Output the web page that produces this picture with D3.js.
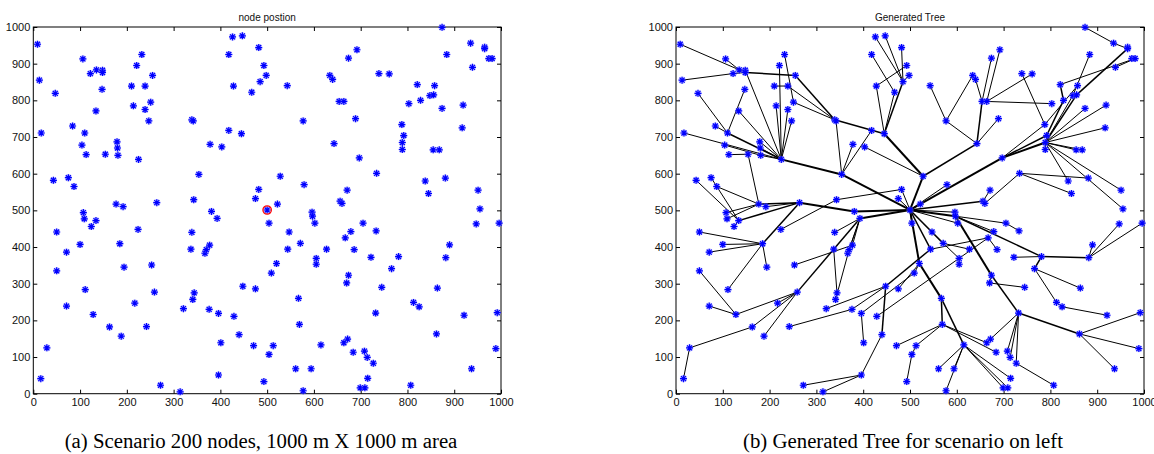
<!DOCTYPE html>
<html><head><meta charset="utf-8">
<script src="https://cdn.jsdelivr.net/npm/d3@7"></script>
<style>body{margin:0;background:#fff}</style>
</head><body>
<svg id="c" width="1154" height="454"></svg>
<script>
// ---- data (metres) ----
const nodeX = [500,9,13,47,17,106,122,135,148,148,147,134,84,110,104,113,154,179,180,181,43,75,87,107,177,192,264,210,214,221,232,239,255,239,251,247,225,339,342,354,343,381,378,403,418,445,418,426,447,428,467,482,485,493,498,475,482,
543,692,674,634,640,739,761,654,664,577,689,643,697,734,528,579,522,596,671,656,660,874,935,965,965,974,981,884,939,821,858,828,848,856,803,874,919,788,792,789,789,855,868,917,838,881,845,951,955,
109,124,134,50,100,71,50,111,71,128,29,16,224,185,194,163,188,217,253,259,242,272,314,321,339,337,367,370,377,393,344,341,376,396,429,448,475,440,401,471,396,493,
504,547,571,544,520,509,597,602,627,605,605,567,569,561,513,504,577,594,615,705,733,679,667,686,722,781,766,674,670,745,813,825,732,864,882,890,947,996,921,992,862,989,937,672,664,684,708,714,727,715,699,709,807];
const nodeY = [501,953,855,819,711,913,873,883,882,876,830,771,730,711,678,652,653,687,670,650,582,589,565,494,517,510,521,839,785,895,925,839,868,775,795,744,639,747,744,598,529,497,680,673,718,709,925,973,976,839,822,944,851,895,868,532,557,
840,938,915,868,857,873,872,797,797,744,750,682,643,601,593,570,517,495,555,525,519,999,956,945,941,914,914,925,890,843,840,800,813,815,791,778,787,734,704,685,666,665,665,725,580,588,546,555,504,
477,456,472,441,407,386,335,284,239,216,125,41,448,409,345,182,157,247,351,277,183,23,5,232,440,394,383,393,405,478,275,257,230,219,211,293,286,161,139,131,51,33,
465,441,410,394,355,329,484,465,394,369,353,260,189,68,131,107,8,68,133,465,444,442,425,393,372,374,341,323,302,290,249,237,220,288,371,406,463,465,214,221,163,123,68,149,139,113,116,99,83,42,16,16,23];
// parent of each node in the generated tree (-1 = sink)
const parentOf = [-1,9,6,13,36,7,9,8,36,32,13,36,13,36,19,16,24,36,36,36,108,108,24,24,26,26,41,31,36,36,34,37,37,36,37,36,39,45,39,0,56,0,39,71,39,71,50,52,52,45,45,52,45,49,52,0,0,
66,65,64,66,64,94,65,68,64,68,68,71,0,77,0,0,0,0,76,0,76,79,81,81,90,83,86,89,83,88,94,95,96,96,65,96,96,69,69,69,96,96,96,96,96,70,70,96,96,
24,108,26,119,119,119,115,119,115,125,121,116,40,26,119,125,125,125,134,131,138,146,146,141,135,135,135,135,135,0,131,133,141,153,170,151,152,141,139,160,143,163,
0,0,0,0,0,152,0,0,150,150,157,152,159,166,160,162,166,166,159,154,167,154,151,170,173,154,173,154,175,176,174,178,175,174,173,182,182,182,179,188,180,188,188,180,160,160,180,180,180,166,166,166,196];
const sinkIndex = 0;
const tickValues = [0,100,200,300,400,500,600,700,800,900,1000];
const titles = ["node postion", "Generated Tree"];
const captions = ["(a) Scenario 200 nodes, 1000 m X 1000 m area", "(b) Generated Tree for scenario on left"];

// ---- drawing ----
const svg = d3.select("#c");
const nodes = nodeX.map((v,i)=>({i, x:v, y:nodeY[i], p:parentOf[i]}));
const size = nodes.map(()=>1);
function depth(i){let d=0;while(parentOf[i]>=0){i=parentOf[i];d++;if(d>500)break;}return d;}
const order = nodes.map(n=>n.i).sort((a,b)=>depth(b)-depth(a));
order.forEach(i=>{ if(parentOf[i]>=0) size[parentOf[i]]+=size[i]; });

const panels = [
  {r0:33.3, r1:501, cx:261, title:titles[0], caption:captions[0], tree:false},
  {r0:676, r1:1144, cx:903, title:titles[1], caption:captions[1], tree:true}
];
const yTop = 27, yBot = 393.7;
const star = "M-3.5,0H3.5M0,-3.5V3.5M-2.5,-2.5L2.5,2.5M-2.5,2.5L2.5,-2.5";
const fmt = d3.format("d");

panels.forEach(p=>{
  const x = d3.scaleLinear().domain([0,1000]).range([p.r0,p.r1]);
  const y = d3.scaleLinear().domain([0,1000]).range([yBot,yTop]);
  const g = svg.append("g");

  const styleAxis = sel => {
    sel.attr("font-family","'Liberation Sans', Arial, sans-serif").attr("font-size",11);
    sel.select(".domain").remove();
    sel.selectAll("line").attr("stroke","#000");
    sel.selectAll("text").attr("fill","#111");
  };
  g.append("g").attr("transform",`translate(0,${yBot})`)
    .call(d3.axisBottom(x).tickValues(tickValues).tickFormat(fmt).tickSizeInner(-4).tickSizeOuter(0).tickPadding(5)).call(styleAxis);
  g.append("g").attr("transform",`translate(${p.r0},0)`)
    .call(d3.axisLeft(y).tickValues(tickValues).tickFormat(fmt).tickSizeInner(-4).tickSizeOuter(0).tickPadding(3)).call(styleAxis);
  g.append("g").attr("transform",`translate(0,${yTop})`)
    .call(d3.axisTop(x).tickValues(tickValues).tickSizeInner(-4).tickSizeOuter(0).tickFormat("")).call(styleAxis);
  g.append("g").attr("transform",`translate(${p.r1},0)`)
    .call(d3.axisRight(y).tickValues(tickValues).tickSizeInner(-4).tickSizeOuter(0).tickFormat("")).call(styleAxis);
  g.append("rect").attr("x",p.r0).attr("y",yTop).attr("width",p.r1-p.r0).attr("height",yBot-yTop)
    .attr("fill","none").attr("stroke","#000").attr("stroke-width",1);

  g.append("text").attr("x",(p.r0+p.r1)/2).attr("y",21).attr("text-anchor","middle")
    .attr("font-family","'Liberation Sans', Arial, sans-serif").attr("font-size",10).attr("fill","#111").text(p.title);

  g.append("text").attr("x",p.cx).attr("y",448).attr("text-anchor","middle")
    .attr("font-family","'Liberation Serif', 'Times New Roman', serif").attr("font-size",20.8).attr("fill","#000").text(p.caption);

  if(p.tree){
    g.append("g").selectAll("line").data(nodes.filter(n=>n.p>=0)).join("line")
      .attr("x1",d=>x(d.x)).attr("y1",d=>y(d.y))
      .attr("x2",d=>x(nodes[d.p].x)).attr("y2",d=>y(nodes[d.p].y))
      .attr("stroke","#000")
      .attr("stroke-width",d=> size[d.i]>12 ? 2 : size[d.i]>3 ? 1.5 : 1);
  }
  const m = g.append("g").selectAll("g").data(nodes).join("g")
    .attr("transform",d=>`translate(${x(d.x)},${y(d.y)})`);
  m.append("circle").attr("r",3.6).attr("fill","#7f7fff").attr("opacity",0.45);
  m.append("path").attr("d",star).attr("stroke","#0000ff").attr("stroke-width",1.2).attr("fill","none");
  if(!p.tree){
    const s = nodes[sinkIndex];
    g.append("circle").attr("cx",x(s.x)).attr("cy",y(s.y)).attr("r",4.2)
      .attr("fill","none").attr("stroke","#ff0000").attr("stroke-width",1.3);
  }
});
</script>
</body></html>
